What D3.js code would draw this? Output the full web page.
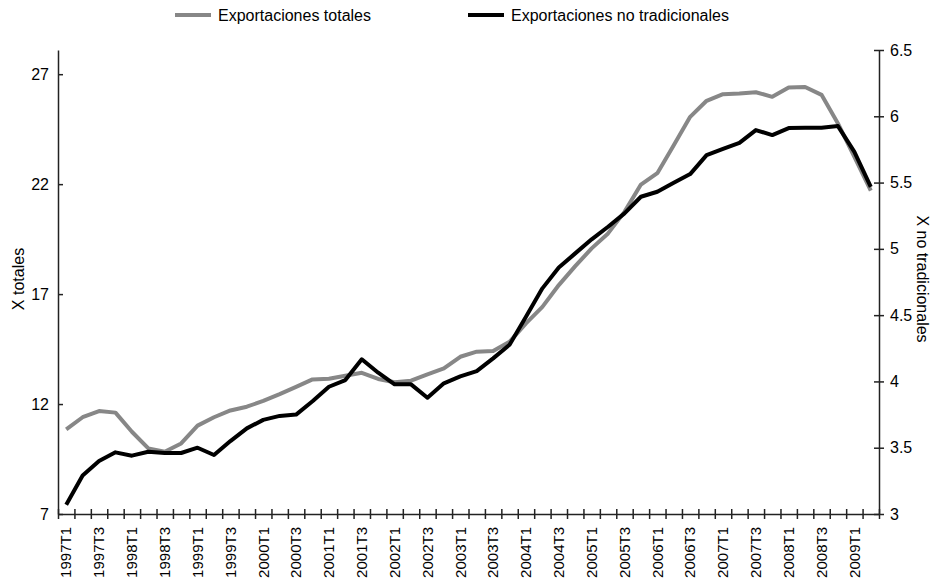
<!DOCTYPE html>
<meta charset="utf-8">
<style>
  body {
      margin: 0;
      padding: 0;
      background: #fff;
  }

  svg text {
      font-family: 'Liberation Sans', Arial, Helvetica, sans-serif;
      fill: #000;
  }

  .axis path,
  .axis line {
      stroke: #222;
      stroke-width: 1.5;
  }

  .line {
      fill: none;
      stroke-width: 4;
      stroke-linejoin: round;
  }
</style>
<body>
<div id="chart"></div>
<script src="https://cdnjs.cloudflare.com/ajax/libs/d3/7.8.5/d3.min.js"></script>
<script>
// quarters 1997T1 .. 2009T2
var quarters = [];
for (var yr = 1997; yr <= 2009; yr++) {
    for (var q = 1; q <= 4; q++) {
        if (yr == 2009 && q > 2) break;
        quarters.push(yr + "T" + q);
    }
}

// Exportaciones totales (left axis)
var totales = [
    10.85, 11.40, 11.68, 11.61, 10.74, 9.98, 9.83, 10.21, 11.02, 11.40,
    11.71, 11.88, 12.14, 12.45, 12.78, 13.12, 13.15, 13.29, 13.42, 13.14,
    12.99, 13.06, 13.35, 13.62, 14.15, 14.38, 14.41, 14.83, 15.67, 16.42,
    17.41, 18.27, 19.08, 19.76, 20.74, 21.98, 22.50, 23.77, 25.06, 25.79,
    26.09, 26.12, 26.18, 25.97, 26.39, 26.42, 26.06, 24.76, 23.24, 21.70
];

// Exportaciones no tradicionales (right axis)
var noTradicionales = [
    3.07, 3.29, 3.40, 3.465, 3.44, 3.47, 3.46, 3.46, 3.50, 3.445,
    3.55, 3.646, 3.71, 3.74, 3.75, 3.85, 3.96, 4.01, 4.167, 4.066,
    3.978, 3.978, 3.877, 3.986, 4.038, 4.078, 4.174, 4.277, 4.488, 4.702,
    4.86, 4.966, 5.072, 5.167, 5.268, 5.393, 5.431, 5.499, 5.564, 5.707,
    5.755, 5.80, 5.896, 5.858, 5.911, 5.913, 5.913, 5.926, 5.732, 5.468
];

var leftTicks = [7, 12, 17, 22, 27];
var rightTicks = [3, 3.5, 4, 4.5, 5, 5.5, 6, 6.5];
var xLabels = quarters.filter(function(d, i) { return i % 2 == 0; });

var width = 932,
    height = 579,
    margin = {top: 50, right: 53, bottom: 65, left: 58};

var svg = d3.select("#chart").append("svg")
    .attr("width", width)
    .attr("height", height);

var x = d3.scaleBand()
    .domain(quarters)
    .range([margin.left, width - margin.right])
    .padding(0);

var xIdx = d3.scaleLinear()
    .domain([0, quarters.length])
    .range([margin.left, width - margin.right]);

var yL = d3.scaleLinear()
    .domain([7, 28.1])
    .range([height - margin.bottom, margin.top]);

var yR = d3.scaleLinear()
    .domain([3, 6.5])
    .range([height - margin.bottom, margin.top]);

function cx(d, i) {
    return x(quarters[i]) + x.bandwidth() / 2;
}

// x axis: tick marks at band edges
var xTicks = svg.append("g")
    .attr("class", "axis")
    .attr("transform", "translate(0," + (height - margin.bottom) + ")")
    .call(d3.axisBottom(xIdx)
        .tickValues(d3.range(0, quarters.length + 1))
        .tickSize(5)
        .tickSizeOuter(0)
        .tickFormat(""));
xTicks.selectAll(".tick line").attr("y1", -5);

// x labels every second quarter
var xLab = svg.append("g")
    .attr("transform", "translate(0," + (height - margin.bottom) + ")")
    .call(d3.axisBottom(x)
        .tickValues(xLabels)
        .tickSize(0)
        .tickSizeOuter(0));
xLab.select(".domain").remove();
xLab.selectAll("text")
    .attr("font-size", 15)
    .attr("transform", "rotate(-90)")
    .attr("x", -13)
    .attr("y", 0)
    .attr("dy", "0.35em")
    .style("text-anchor", "end");

// left axis
var axL = svg.append("g")
    .attr("class", "axis")
    .attr("transform", "translate(" + margin.left + ",0)")
    .call(d3.axisLeft(yL)
        .tickValues(leftTicks)
        .tickSize(5)
        .tickSizeOuter(0)
        .tickPadding(4));
axL.selectAll(".tick line").attr("x2", 5);
axL.selectAll("text").attr("font-size", 16);

// right axis
var axR = svg.append("g")
    .attr("class", "axis")
    .attr("transform", "translate(" + (width - margin.right) + ",0)")
    .call(d3.axisRight(yR)
        .tickValues(rightTicks)
        .tickSize(5)
        .tickSizeOuter(0)
        .tickPadding(6)
        .tickFormat(d3.format("")));
axR.selectAll(".tick line").attr("x1", -5);
axR.selectAll("text").attr("font-size", 16);

// axis titles
var midY = 279;
svg.append("text")
    .attr("transform", "translate(23.5," + midY + ") rotate(-90)")
    .attr("text-anchor", "middle")
    .attr("font-size", 16)
    .text("X totales");

svg.append("text")
    .attr("transform", "translate(916.5," + midY + ") rotate(90)")
    .attr("text-anchor", "middle")
    .attr("font-size", 16)
    .text("X no tradicionales");

// lines
var lineL = d3.line()
    .x(cx)
    .y(function(d) { return yL(d); });

var lineR = d3.line()
    .x(cx)
    .y(function(d) { return yR(d); });

svg.append("path")
    .datum(totales)
    .attr("class", "line")
    .attr("stroke", "#878787")
    .attr("d", lineL);

svg.append("path")
    .datum(noTradicionales)
    .attr("class", "line")
    .attr("stroke", "#000")
    .attr("d", lineR);

// legend
var legend = [
    {name: "Exportaciones totales", color: "#878787", x: 175},
    {name: "Exportaciones no tradicionales", color: "#000", x: 468}
];

var lg = svg.selectAll(".legend")
    .data(legend)
    .enter().append("g")
    .attr("class", "legend")
    .attr("transform", function(d) { return "translate(" + d.x + ",15)"; });

lg.append("line")
    .attr("x1", 0)
    .attr("x2", 36)
    .attr("stroke", function(d) { return d.color; })
    .attr("stroke-width", 4);

lg.append("text")
    .attr("x", 43)
    .attr("dy", "0.35em")
    .attr("font-size", 16)
    .text(function(d) { return d.name; });
</script>
</body>
